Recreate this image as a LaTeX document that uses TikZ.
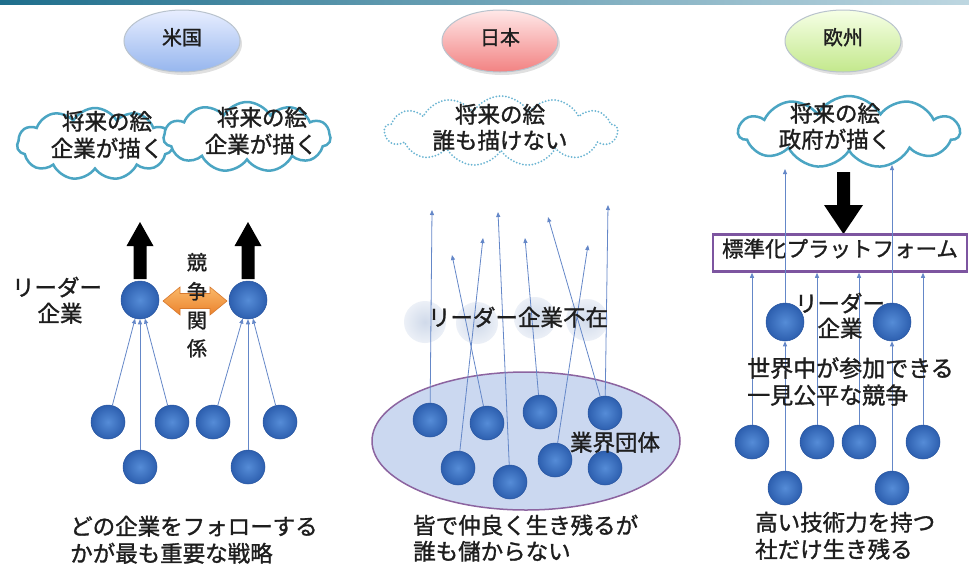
\documentclass[tikz,border=0pt]{standalone}
\usepackage{fontspec}
\newfontfamily\jp[FakeBold=1.3]{Noto Sans CJK JP}
\usetikzlibrary{shapes.symbols,shapes.geometric,arrows.meta,calc}
\definecolor{dotin}{RGB}{85,140,215}
\definecolor{dotout}{RGB}{45,95,175}
\definecolor{dotedge}{RGB}{40,85,160}
\definecolor{ghostin}{RGB}{208,218,234}
\definecolor{ghostout}{RGB}{236,240,247}
\definecolor{linkblue}{RGB}{100,135,200}
\definecolor{txt}{RGB}{30,30,30}
\definecolor{cloudedge}{RGB}{75,165,195}
\definecolor{cloudlight}{RGB}{105,180,210}
\definecolor{orangeA}{RGB}{250,185,105}
\definecolor{orangeB}{RGB}{235,130,45}
\definecolor{orangeE}{RGB}{215,120,45}
\definecolor{purpleE}{RGB}{125,85,160}
\definecolor{ellfill}{RGB}{203,216,240}
\definecolor{elledge}{RGB}{140,100,160}
\definecolor{barA}{RGB}{30,110,140}
\definecolor{barB}{RGB}{190,215,225}
\definecolor{usA}{RGB}{232,238,255}
\definecolor{usB}{RGB}{150,182,238}
\definecolor{jpA}{RGB}{255,232,232}
\definecolor{jpB}{RGB}{242,130,130}
\definecolor{euA}{RGB}{246,255,230}
\definecolor{euB}{RGB}{195,232,140}
\definecolor{ovaledge}{RGB}{185,195,205}
\begin{document}
\begin{tikzpicture}[x=1pt,y=-1pt,
  every node/.style={font=\jp},
  dot/.style={circle, inner sep=0pt, minimum size=34pt, inner color=dotin, outer color=dotout, draw=dotedge, line width=0.5pt},
  leader/.style={dot, minimum size=38pt},
  ghost/.style={circle, inner sep=0pt, minimum size=42pt, inner color=ghostin, outer color=ghostout},
  conn/.style={draw=linkblue, line width=0.8pt, -{Triangle[length=5pt,width=4pt]}},
  lbl/.style={text=txt, font=\jp\fontsize{22.5}{26}\selectfont, inner sep=0pt, text height=0.88em, text depth=0.12em},
  smalllbl/.style={lbl, font=\jp\fontsize{20}{24}\selectfont},
  oval/.style={ellipse, inner sep=0pt, minimum width=116pt, minimum height=62pt, draw=ovaledge, line width=1pt},
  ovalshadow/.style={ellipse, inner sep=0pt, minimum width=116pt, minimum height=62pt, fill=black, opacity=0.12},
  cloudbox/.style={cloud, cloud puffs=11, cloud puff arc=120, draw=cloudedge, line width=2.5pt, fill=white, inner sep=0pt},
  dottedcloud/.style={cloud, cloud puffs=13, cloud puff arc=120, draw=cloudlight, line width=2pt, dash pattern=on 0pt off 3.2pt, line cap=round, inner sep=0pt},
]
\useasboundingbox (0,0) rectangle (969,571);
\fill[white] (0,0) rectangle (969,571);
\shade[left color=barA, right color=barB] (0,0) rectangle (969,4);

% top ovals
\node[ovalshadow] (USs) at (184,44) {};
\node[oval, top color=usA, bottom color=usB] (US) at (182,41) {};
\node[smalllbl] (USt) at (US) {米国};
\node[ovalshadow] (JPs) at (502,44) {};
\node[oval, top color=jpA, bottom color=jpB] (JP) at (500,41) {};
\node[smalllbl] (JPt) at (JP) {日本};
\node[ovalshadow] (EUs) at (845,44) {};
\node[oval, top color=euA, bottom color=euB] (EU) at (843,41) {};
\node[smalllbl] (EUt) at (EU) {欧州};

% ---------- left panel ----------
\node[cloudbox, aspect=2.2, minimum width=156pt, minimum height=72pt] (C1) at (95,144) {};
\node[cloudbox, aspect=2.4, minimum width=167pt, minimum height=70pt] (C2) at (247,137) {};
\node[lbl] (C1a) at (107,126) {将来の絵};
\node[lbl] (C1b) at (107,153) {企業が描く};
\node[lbl] (C2a) at (262,122) {将来の絵};
\node[lbl] (C2b) at (261,149) {企業が描く};

\node[leader] (L1) at (140,300) {};
\node[leader] (L2) at (248,300) {};
\node[dot] (B1) at (108,422) {};
\node[dot] (B2) at (172,422) {};
\node[dot] (B3) at (140,467) {};
\node[dot] (B4) at (213,422) {};
\node[dot] (B5) at (280,422) {};
\node[dot] (B6) at (248,467) {};
\draw[conn] (B1) -- (L1);
\draw[conn] (B2) -- (L1);
\draw[conn] (B3) -- (L1);
\draw[conn] (B4) -- (L2);
\draw[conn] (B5) -- (L2);
\draw[conn] (B6) -- (L2);

\fill[black] (133.5,279) -- (133.5,246) -- (126.5,246) -- (140,222) -- (153.5,246) -- (146.5,246) -- (146.5,279) -- cycle;
\fill[black] (241.5,279) -- (241.5,246) -- (234.5,246) -- (248,222) -- (261.5,246) -- (254.5,246) -- (254.5,279) -- cycle;

\shadedraw[top color=orangeA, bottom color=orangeB, draw=orangeE, line width=0.6pt]
  (163,301) -- (180,287) -- (180,293.5) -- (210,293.5) -- (210,287) -- (227,301)
  -- (210,315) -- (210,308.5) -- (180,308.5) -- (180,315) -- cycle;
\node[smalllbl] (K1) at (197,266) {競};
\node[smalllbl] (K2) at (197,295) {争};
\node[smalllbl] (K3) at (197,324) {関};
\node[smalllbl] (K4) at (197,352) {係};

\node[lbl] (LDa) at (57,292) {リーダー};
\node[lbl] (LDb) at (60,318) {企業};

\node[lbl, anchor=west] (T1a) at (70,531) {どの企業をフォローする};
\node[lbl, anchor=west] (T1b) at (70,558) {かが最も重要な戦略};

% ---------- middle panel ----------
\node[dottedcloud, aspect=3.2, minimum width=233pt, minimum height=70pt] (C3) at (501,131) {};
\node[lbl] (C3a) at (500,119) {将来の絵};
\node[lbl] (C3b) at (500,145) {誰も描けない};

\node[ellipse, inner sep=0pt, minimum width=308pt, minimum height=138pt, fill=ellfill, draw=elledge, line width=1.5pt] (E) at (526,441) {};
\node[ghost] (G1) at (425,322) {};
\node[ghost] (G2) at (477,323) {};
\node[ghost] (G3) at (535,318) {};
\node[ghost] (G4) at (587,320) {};

\node[dot] (M1) at (430,420) {};
\node[dot] (M2) at (487,423) {};
\node[dot] (M3) at (540,412) {};
\node[dot] (M4) at (605,413) {};
\node[dot] (M5) at (458,468) {};
\node[dot] (M6) at (510,482) {};
\node[dot] (M7) at (555,460) {};
\node[dot] (M8) at (605,468) {};
\coordinate (N1) at (432,210);
\coordinate (N2) at (452,255);
\coordinate (N3) at (483,238);
\coordinate (N4) at (498,212);
\coordinate (N5) at (525,238);
\coordinate (N6) at (548,217);
\coordinate (N7) at (588,245);
\coordinate (N8) at (608,205);
\draw[conn] (M1) -- (N1);
\draw[conn] (M2) -- (N2);
\draw[conn] (M5) -- (N3);
\draw[conn] (M6) -- (N4);
\draw[conn] (M3) -- (N5);
\draw[conn] (M4) -- (N6);
\draw[conn] (M7) -- (N7);
\draw[conn] (M4) -- (N8);

\node[lbl] (MLa) at (518,322) {リーダー企業不在};
\node[lbl] (MLb) at (615,447) {業界団体};
\node[lbl, anchor=west] (T2a) at (413,530) {皆で仲良く生き残るが};
\node[lbl, anchor=west] (T2b) at (413,556) {誰も儲からない};

% ---------- right panel ----------
\node[cloudbox, aspect=3.0, minimum width=221pt, minimum height=72pt] (C4) at (849,132) {};
\node[lbl] (C4a) at (835,118) {将来の絵};
\node[lbl] (C4b) at (835,144) {政府が描く};

\fill[black] (837,172) -- (850,172) -- (850,205) -- (863,205) -- (843.5,234) -- (824,205) -- (837,205) -- cycle;

\node[draw=purpleE, line width=2.5pt, fill=white, inner sep=0pt, minimum width=254pt, minimum height=37pt] (P) at (840,253) {};
\node[lbl, font=\jp\fontsize{21.5}{26}\selectfont] (Pt) at (P) {標準化プラットフォーム};

\node[leader] (RL1) at (785,322) {};
\node[leader] (RL2) at (892,322) {};
\node[dot] (RB1) at (752,442) {};
\node[dot] (RB2) at (817,442) {};
\node[dot] (RB3) at (859,442) {};
\node[dot] (RB4) at (923,442) {};
\node[dot] (RB5) at (785,488) {};
\node[dot] (RB6) at (892,488) {};
\coordinate (U1) at (785,169);
\coordinate (U2) at (892,165);
\draw[conn] (RB1) -- (RB1 |- P.south);
\draw[conn] (RB2) -- (RB2 |- P.south);
\draw[conn] (RB3) -- (RB3 |- P.south);
\draw[conn] (RB4) -- (RB4 |- P.south);
\draw[conn] (RB5) -- (RL1);
\draw[conn] (RB6) -- (RL2);
\draw[conn] (RL1) -- (U1);
\draw[conn] (RL2) -- (U2);

\node[lbl] (RLa) at (840,308) {リーダー};
\node[lbl] (RLb) at (840,333) {企業};
\node[lbl, anchor=west, font=\jp\fontsize{23}{26}\selectfont] (RTa) at (747,373) {世界中が参加できる};
\node[lbl, anchor=west, font=\jp\fontsize{23}{26}\selectfont] (RTb) at (747,400) {一見公平な競争};
\node[lbl, anchor=west] (T3a) at (755,527) {高い技術力を持つ};
\node[lbl, anchor=west] (T3b) at (755,554) {社だけ生き残る};
\end{tikzpicture}
\end{document}
